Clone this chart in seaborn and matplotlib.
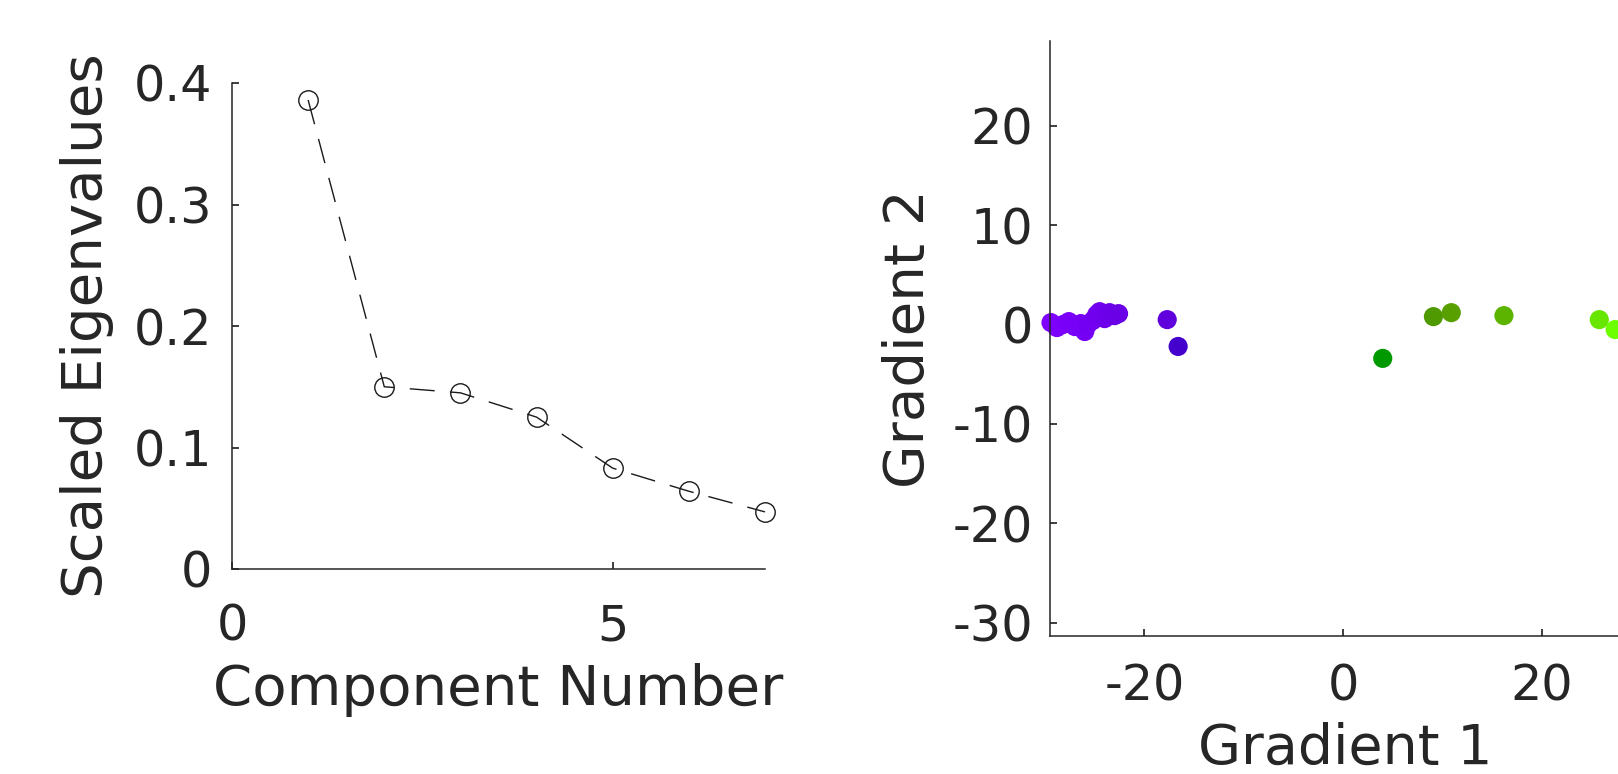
import numpy as np
import pandas as pd
import matplotlib
matplotlib.use("Agg")
import matplotlib.pyplot as plt
import seaborn as sns

# scree data (left panel)
component = [1, 2, 3, 4, 5, 6, 7]
eigen_scaled = [0.386, 0.150, 0.145, 0.125, 0.083, 0.064, 0.047]

# gradient embedding (right panel)
grad1 = [-29.4, -28.8, -28.2, -27.6, -27.0, -26.4, -26.0, -25.7, -25.2, -24.8,
         -24.5, -24.0, -23.5, -23.0, -22.6,
         -17.7, -16.6, 4.0, 9.1, 10.9, 16.2, 25.8, 27.4]
grad2 = [0.2, -0.3, 0.0, 0.3, -0.2, 0.1, -0.7, 0.0, 0.4, 1.0,
         1.3, 0.6, 1.2, 0.9, 1.1,
         0.5, -2.2, -3.4, 0.8, 1.2, 0.9, 0.5, -0.5]
point_colors = ['#7f00ff', '#7d00fe', '#7c00fc', '#7a00fa', '#7900f8', '#7700f6', '#7600f5',
                '#7400f3', '#7300f1', '#7100ef', '#7000ee', '#6e00ec', '#6d00ea', '#6b00e8',
                '#6a00e6',
                '#6000dc', '#4400cc', '#009a00', '#4f9a00', '#58a000', '#5cb400', '#66e600', '#6cff00']

yticks_left = [0, 0.1, 0.2, 0.3, 0.4]
xticks_left = [0, 5]
yticks_right = [-30, -20, -10, 0, 10, 20]
xticks_right = [-20, 0, 20]

sns.set_theme(style="ticks")
plt.rcParams['font.family'] = ['DejaVu Sans']
txt = '#262626'
plt.rcParams.update({
    'axes.edgecolor': txt, 'xtick.color': txt, 'ytick.color': txt,
    'axes.labelcolor': txt, 'text.color': txt,
    'xtick.direction': 'in', 'ytick.direction': 'in',
    'axes.linewidth': 1.1, 'axes.unicode_minus': False,
})

W, H = 1618, 774
fig = plt.figure(figsize=(W / 100, H / 100), dpi=100)

# --- left: scree plot ---
ax1 = fig.add_axes([232 / W, 1 - 569 / H, 533 / W, (569 - 83) / H])
df1 = pd.DataFrame({'comp': component, 'eig': eigen_scaled})
sns.lineplot(data=df1, x='comp', y='eig', ax=ax1, color='k', lw=1.0,
             linestyle=(0, (18, 11)), marker='o', markersize=14,
             markerfacecolor='none', markeredgecolor='k', markeredgewidth=1.0,
             clip_on=False)
ax1.set_xlim(0, 7)
ax1.set_ylim(0, 0.4)
ax1.set_xticks(xticks_left)
ax1.set_yticks(yticks_left)
ax1.set_yticklabels(['0', '0.1', '0.2', '0.3', '0.4'])
ax1.tick_params(axis='x', labelsize=35.5, pad=24, length=5)
ax1.tick_params(axis='y', labelsize=35.5, pad=14, length=5)
ax1.set_xlabel('Component Number', fontsize=40.5, labelpad=9)
ax1.set_ylabel('Scaled Eigenvalues', fontsize=40.5, labelpad=14)
sns.despine(ax=ax1)

# --- right: gradient scatter ---
ax2 = fig.add_axes([1050 / W, 1 - 635.7 / H, 591 / W, (635.7 - 41.3) / H])
df2 = pd.DataFrame({'g1': grad1, 'g2': grad2, 'idx': [str(i) for i in range(len(grad1))]})
sns.scatterplot(data=df2, x='g1', y='g2', hue='idx', palette=point_colors,
                s=190, linewidth=0, legend=False, ax=ax2, clip_on=False)
ax2.set_xlim(-29.5, 30.0)
ax2.set_ylim(-31.3, 28.5)
ax2.set_xticks(xticks_right)
ax2.set_yticks(yticks_right)
ax2.tick_params(axis='x', labelsize=35.5, pad=19.5, length=5)
ax2.tick_params(axis='y', labelsize=35.5, pad=12, length=5)
ax2.set_xlabel('Gradient 1', fontsize=40, labelpad=8)
ax2.set_ylabel('Gradient 2', fontsize=40.5, labelpad=12)
sns.despine(ax=ax2)

fig.savefig('out.png', dpi=100)
